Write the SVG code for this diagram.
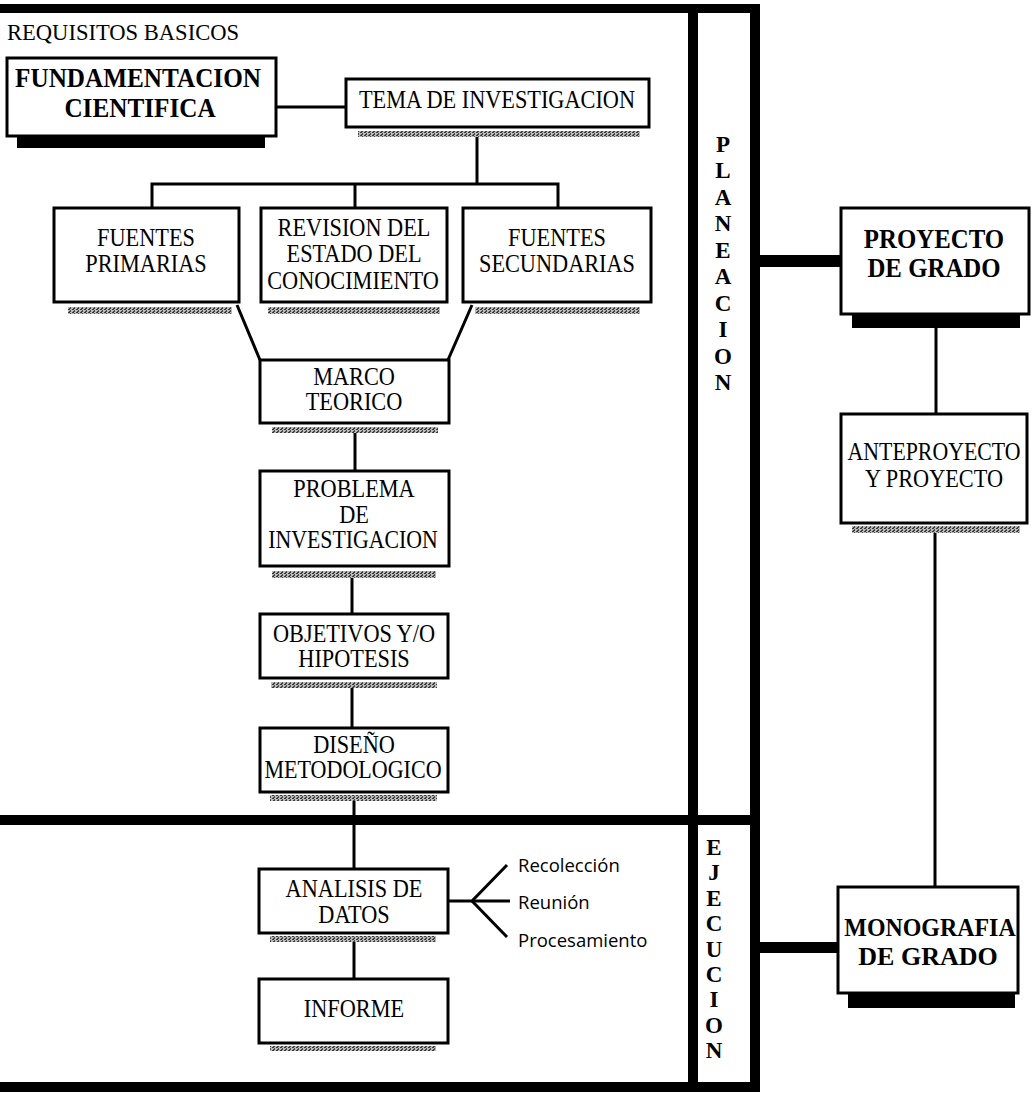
<svg xmlns="http://www.w3.org/2000/svg" width="1035" height="1093" viewBox="0 0 1035 1093">
<defs>
<pattern id="stip" width="4" height="3" patternUnits="userSpaceOnUse">
<rect width="4" height="3" fill="#b8b8b8"/>
<rect x="0" y="0" width="2" height="1" fill="#3a3a3a"/>
<rect x="2" y="1" width="1" height="1" fill="#555"/>
<rect x="1" y="2" width="2" height="1" fill="#444"/>
</pattern>
<style>
.box{fill:#fff;stroke:#000;stroke-width:3}
.sh{fill:url(#stip)}
.bsh{fill:#000}
.t{font-family:"Liberation Serif","Times New Roman",serif;font-size:24.5px;fill:#000;text-anchor:middle}
.tb{font-family:"Liberation Serif","Times New Roman",serif;font-weight:bold;fill:#000;text-anchor:middle}
.col{font-family:"Liberation Serif","Times New Roman",serif;font-weight:bold;font-size:23px;fill:#000;text-anchor:middle}
.s{font-family:"Open Sans","Liberation Sans",sans-serif;font-size:18.5px;fill:#000}
.ln{stroke:#000;stroke-width:3;fill:none}
.bar{fill:#000}
</style>
</defs>
<rect width="1035" height="1093" fill="#fff"/>

<g id="frame">
<rect class="bar" x="0" y="4" width="760" height="9"/>
<rect class="bar" x="688" y="4" width="10" height="1088"/>
<rect class="bar" x="750" y="4" width="10" height="1088"/>
<rect class="bar" x="0" y="815" width="760" height="10"/>
<rect class="bar" x="0" y="1082" width="760" height="10"/>
<text transform="translate(7 40) scale(0.94 1)" style="font-family:'Liberation Serif','Times New Roman',serif;font-size:24px;fill:#000">REQUISITOS BASICOS</text>
</g>

<g id="planeacion">
<text class="col" x="723" y="152">P</text>
<text class="col" x="723" y="178">L</text>
<text class="col" x="723" y="205">A</text>
<text class="col" x="723" y="231">N</text>
<text class="col" x="723" y="258">E</text>
<text class="col" x="723" y="284">A</text>
<text class="col" x="723" y="311">C</text>
<text class="col" x="723" y="337">I</text>
<text class="col" x="723" y="364">O</text>
<text class="col" x="723" y="390">N</text>
</g>

<g id="ejecucion">
<text class="col" x="714" y="855">E</text>
<text class="col" x="714" y="880">J</text>
<text class="col" x="714" y="906">E</text>
<text class="col" x="714" y="931">C</text>
<text class="col" x="714" y="957">U</text>
<text class="col" x="714" y="982">C</text>
<text class="col" x="714" y="1007">I</text>
<text class="col" x="714" y="1033">O</text>
<text class="col" x="714" y="1058">N</text>
</g>

<g id="connectors">
<line class="ln" x1="277" y1="107" x2="346" y2="107"/>
<line class="ln" x1="477" y1="137" x2="477" y2="184"/>
<polyline class="ln" points="152,208 152,184 558,184 558,208"/>
<line class="ln" x1="355" y1="184" x2="355" y2="208"/>
<line class="ln" x1="237" y1="305" x2="260" y2="360"/>
<line class="ln" x1="472" y1="305" x2="448" y2="360"/>
<line class="ln" x1="355" y1="433" x2="355" y2="471"/>
<line class="ln" x1="352" y1="578" x2="352" y2="614"/>
<line class="ln" x1="352" y1="688" x2="352" y2="728"/>
<line class="ln" x1="354" y1="801" x2="354" y2="869"/>
<line class="ln" x1="354" y1="942" x2="354" y2="979"/>
<polyline class="ln" points="448,901 472,901 507,865"/>
<line class="ln" x1="472" y1="901" x2="510" y2="901"/>
<line class="ln" x1="472" y1="901" x2="507" y2="937"/>
<rect class="bar" x="760" y="255" width="81" height="12"/>
<rect class="bar" x="760" y="942" width="78" height="11"/>
<line class="ln" x1="936" y1="328" x2="936" y2="414"/>
<line class="ln" x1="935" y1="533" x2="935" y2="887"/>
</g>

<g id="fundamentacion">
<rect class="bsh" x="17" y="136" width="248" height="12"/>
<rect class="box" x="7" y="58" width="269" height="78"/>
<text class="tb" transform="translate(138 87) scale(0.9 1)" font-size="28">FUNDAMENTACION</text>
<text class="tb" transform="translate(140 117) scale(0.9 1)" font-size="28">CIENTIFICA</text>
</g>

<g id="tema">
<rect class="sh" x="358" y="131" width="282" height="6"/>
<rect class="box" x="346" y="79" width="303" height="48"/>
<text class="t" transform="translate(497 108) scale(0.91 1)">TEMA DE INVESTIGACION</text>
</g>

<g id="fuentes-primarias">
<rect class="sh" x="68" y="307" width="164" height="7"/>
<rect class="box" x="54" y="208" width="185" height="94"/>
<text class="t" transform="translate(146 246) scale(0.91 1)">FUENTES</text>
<text class="t" transform="translate(146 272) scale(0.91 1)">PRIMARIAS</text>
</g>

<g id="revision">
<rect class="sh" x="268" y="307" width="172" height="7"/>
<rect class="box" x="261" y="208" width="186" height="94"/>
<text class="t" transform="translate(354 236) scale(0.91 1)">REVISION DEL</text>
<text class="t" transform="translate(354 262) scale(0.91 1)">ESTADO DEL</text>
<text class="t" transform="translate(353 289) scale(0.91 1)">CONOCIMIENTO</text>
</g>

<g id="fuentes-secundarias">
<rect class="sh" x="475" y="307" width="165" height="7"/>
<rect class="box" x="463" y="208" width="188" height="94"/>
<text class="t" transform="translate(557 246) scale(0.91 1)">FUENTES</text>
<text class="t" transform="translate(557 272) scale(0.91 1)">SECUNDARIAS</text>
</g>

<g id="marco">
<rect class="sh" x="272" y="427" width="166" height="6"/>
<rect class="box" x="260" y="360" width="189" height="63"/>
<text class="t" transform="translate(354 385) scale(0.91 1)">MARCO</text>
<text class="t" transform="translate(354 410) scale(0.91 1)">TEORICO</text>
</g>

<g id="problema">
<rect class="sh" x="272" y="571" width="164" height="7"/>
<rect class="box" x="260" y="471" width="189" height="95"/>
<text class="t" transform="translate(354 497) scale(0.91 1)">PROBLEMA</text>
<text class="t" transform="translate(354 523) scale(0.91 1)">DE</text>
<text class="t" transform="translate(353 548) scale(0.89 1)">INVESTIGACION</text>
</g>

<g id="objetivos">
<rect class="sh" x="271" y="682" width="166" height="6"/>
<rect class="box" x="260" y="614" width="188" height="64"/>
<text class="t" transform="translate(354 642) scale(0.91 1)">OBJETIVOS Y/O</text>
<text class="t" transform="translate(354 667) scale(0.91 1)">HIPOTESIS</text>
</g>

<g id="diseno">
<rect class="sh" x="270" y="795" width="167" height="6"/>
<rect class="box" x="260" y="728" width="188" height="64"/>
<text class="t" transform="translate(354 753) scale(0.91 1)">DISEÑO</text>
<text class="t" transform="translate(353 778) scale(0.9 1)">METODOLOGICO</text>
</g>

<g id="analisis">
<rect class="sh" x="270" y="936" width="166" height="6"/>
<rect class="box" x="259" y="869" width="189" height="64"/>
<text class="t" transform="translate(354 897) scale(0.91 1)">ANALISIS DE</text>
<text class="t" transform="translate(354 923) scale(0.91 1)">DATOS</text>
</g>

<g id="recoleccion"><text class="s" x="518" y="872">Recolección</text></g>
<g id="reunion"><text class="s" x="518" y="909">Reunión</text></g>
<g id="procesamiento"><text class="s" x="518" y="947">Procesamiento</text></g>

<g id="informe">
<rect class="sh" x="270" y="1046" width="166" height="5"/>
<rect class="box" x="259" y="979" width="189" height="64"/>
<text class="t" transform="translate(354 1017) scale(0.91 1)">INFORME</text>
</g>

<g id="proyecto">
<rect class="bsh" x="852" y="314" width="168" height="14"/>
<rect class="box" x="841" y="208" width="188" height="106"/>
<text class="tb" transform="translate(934 248) scale(0.92 1)" font-size="27">PROYECTO</text>
<text class="tb" transform="translate(934 277) scale(0.92 1)" font-size="27">DE GRADO</text>
</g>

<g id="anteproyecto">
<rect class="sh" x="852" y="526" width="168" height="7"/>
<rect class="box" x="841" y="414" width="186" height="109"/>
<text class="t" transform="translate(934 460) scale(0.89 1)">ANTEPROYECTO</text>
<text class="t" transform="translate(934 487) scale(0.91 1)">Y PROYECTO</text>
</g>

<g id="monografia">
<rect class="bsh" x="848" y="993" width="167" height="15"/>
<rect class="box" x="838" y="887" width="180" height="106"/>
<text class="tb" transform="translate(930 936) scale(0.92 1)" font-size="26">MONOGRAFIA</text>
<text class="tb" transform="translate(928 965)" font-size="26">DE GRADO</text>
</g>
</svg>
